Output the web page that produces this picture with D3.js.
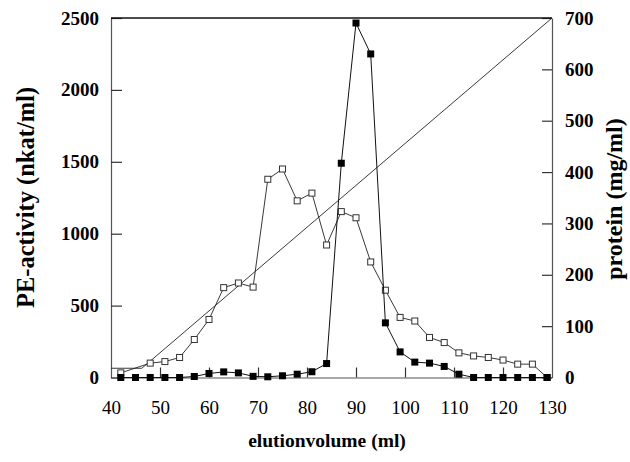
<!DOCTYPE html>
<html><head><meta charset="utf-8">
<script src="https://cdn.jsdelivr.net/npm/d3@7"></script>
<style>body{margin:0;background:#fff}svg{display:block}</style>
</head><body>
<script>
// Elution volume (ml) for each fraction
const fractionsPE = [42,45,48,51,54,57,60,63,66,69,72,75,78,81,84,87,90,93,96,99,102,105,108,111,114,117,120,123,126,129];
// PE-activity (nkat/ml), filled squares, left axis
const peActivity = [0,0,0,0,0,7,28,39,32,8,5,12,23,40,97,1490,2465,2250,380,178,107,100,77,23,0,0,0,0,0,0];
// protein (mg/ml), open squares, right axis
const fractionsProt = [42,48,51,54,57,60,63,66,69,72,75,78,81,84,87,90,93,96,99,102,105,108,111,114,117,120,123,126,129];
const protein = [9,28,31,39,74,113,175,184,176,386,406,344,359,258,323,311,225,170,117,110,78,68,48,42,39,34,26,26,0];
// salt gradient line (drawn on protein scale)
const gradientX = [40,46.3,130];
const gradientY = [18,18,700];
const xTicks = [40,50,60,70,80,90,100,110,120,130];
const yLeftTicks = [0,500,1000,1500,2000,2500];
const yRightTicks = [0,100,200,300,400,500,600,700];

const W=630,H=462;
const L=111,R=552,T=18,B=377.5;
const svg=d3.select("body").append("svg").attr("width",W).attr("height",H);
const x=d3.scaleLinear().domain([40,130]).range([L,R]);
const yL=d3.scaleLinear().domain([0,2500]).range([B,T]);
const yR=d3.scaleLinear().domain([0,700]).range([B,T]);
const serif="'Liberation Serif','Times New Roman',serif";
const axisCol="#555";
const fmt=d3.format("d");

// left axis
const gL=svg.append("g").attr("transform",`translate(${L},0)`)
 .call(d3.axisLeft(yL).tickValues(yLeftTicks).tickFormat(fmt).tickSizeInner(-11).tickSizeOuter(0).tickPadding(12));
// right axis
const gR=svg.append("g").attr("transform",`translate(${R},0)`)
 .call(d3.axisRight(yR).tickValues(yRightTicks).tickFormat(fmt).tickSizeInner(-10).tickSizeOuter(0).tickPadding(13));
// bottom axis
const gB=svg.append("g").attr("transform",`translate(0,${B})`)
 .call(d3.axisBottom(x).tickValues(xTicks).tickFormat(fmt).tickSizeInner(-10).tickSizeOuter(0).tickPadding(23));
[gL,gR,gB].forEach(g=>{
  g.attr("font-family",serif).attr("font-size",19);
  g.selectAll("path.domain").attr("stroke",axisCol).attr("stroke-width",1.2);
  g.selectAll(".tick line").attr("stroke","#333").attr("stroke-width",1.2);
  g.selectAll(".tick text").attr("fill","#000").attr("font-family",serif).style("font-family",serif);
});
gL.selectAll(".tick text").style("font-size","19px").style("font-weight","bold");
gR.selectAll(".tick text").style("font-size","19px").style("font-weight","bold");
gB.selectAll(".tick text").style("font-size","19px");
gB.selectAll(".tick").filter(d=>d===40||d===130).select("line").remove();
// top border
svg.append("line").attr("x1",L).attr("x2",R).attr("y1",T).attr("y2",T).attr("stroke","#111").attr("stroke-width",1.3);

// gradient line
const lineR=d3.line().x((d,i)=>x(gradientX[i])).y(d=>yR(d));
svg.append("path").datum(gradientY).attr("d",lineR).attr("fill","none").attr("stroke","#222").attr("stroke-width",0.9);

// protein line + open squares
const lineP=d3.line().x((d,i)=>x(fractionsProt[i])).y(d=>yR(d));
svg.append("path").datum(protein).attr("d",lineP).attr("fill","none").attr("stroke","#222").attr("stroke-width",0.9);
svg.selectAll("rect.prot").data(protein).enter().append("rect").attr("class","prot")
 .attr("x",(d,i)=>x(fractionsProt[i])-3).attr("y",d=>yR(d)-3).attr("width",6).attr("height",6)
 .attr("fill","#fff").attr("stroke","#333").attr("stroke-width",1);

// PE line + filled squares
const linePE=d3.line().x((d,i)=>x(fractionsPE[i])).y(d=>yL(d));
svg.append("path").datum(peActivity).attr("d",linePE).attr("fill","none").attr("stroke","#111").attr("stroke-width",1);
svg.selectAll("rect.pe").data(peActivity).enter().append("rect").attr("class","pe")
 .attr("x",(d,i)=>x(fractionsPE[i])-3.5).attr("y",d=>yL(d)-3.5).attr("width",7).attr("height",7)
 .attr("fill","#000");

// titles
svg.append("text").attr("transform",`translate(34,197.5) rotate(-90)`).attr("text-anchor","middle")
 .style("font-family",serif).style("font-size","24.5px").style("font-weight","bold").text("PE-activity (nkat/ml)");
svg.append("text").attr("transform",`translate(622,199) rotate(-90)`).attr("text-anchor","middle")
 .style("font-family",serif).style("font-size","24px").style("font-weight","bold").text("protein (mg/ml)");
svg.append("text").attr("x",327).attr("y",447).attr("text-anchor","middle")
 .style("font-family",serif).style("font-size","19.5px").style("font-weight","bold").text("elutionvolume (ml)");
</script>
</body></html>
